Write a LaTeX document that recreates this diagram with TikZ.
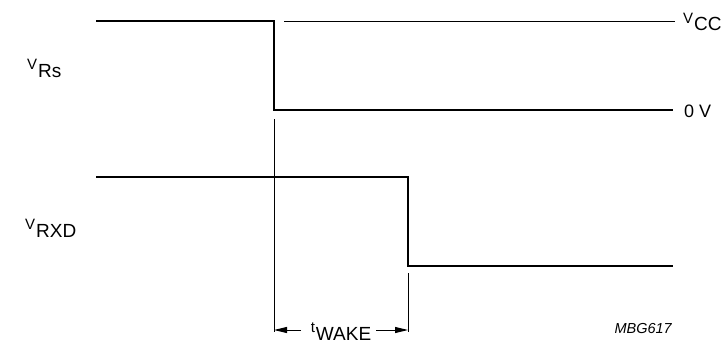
\documentclass[tikz,border=0pt]{standalone}
\usepackage{fontspec}
\setmainfont{Liberation Sans}
\usepackage{tikz}
\usetikzlibrary{arrows.meta}
\newcommand{\sig}[2]{\raisebox{8pt}{\fontsize{15}{15}\selectfont #1}\kern1pt{\fontsize{19}{19}\selectfont #2}}
\tikzset{
    signal/.style={line width=2pt, line join=miter},
    guide/.style={line width=0.9pt},
    dim/.style={guide, -{Triangle[length=13pt, width=6pt]}},
    signame/.style={inner sep=0pt, anchor=base west},
    level/.style={inner sep=0pt, anchor=west, font=\fontsize{18}{18}\selectfont},
    code/.style={inner sep=0pt, anchor=base east, font=\fontsize{14.5}{14.5}\selectfont\itshape}
}
\begin{document}
\begin{tikzpicture}[x=1pt, y=-1pt]
\useasboundingbox (0,0) rectangle (727,345);

% Rs waveform
\coordinate (rs0) at (96,21);
\coordinate (rs1) at (274,21);
\coordinate (rs2) at (274,110);
\coordinate (rs3) at (673,110);
\draw[signal] (rs0) -- (rs1) -- (rs2) -- (rs3);

% RXD waveform
\coordinate (rx0) at (96,177);
\coordinate (rx1) at (408,177);
\coordinate (rx2) at (408,266);
\coordinate (rx3) at (673,266);
\draw[signal] (rx0) -- (rx1) -- (rx2) -- (rx3);

% Supply level
\coordinate (vcc0) at (284,21);
\coordinate (vcc1) at (675,21);
\draw[guide] (vcc0) -- (vcc1);

% Signal names
\node[signame] (vrs) at (27,77) {\sig{V}{Rs}};
\node[signame] (vrxd) at (25,237) {\sig{V}{RXD}};
\node[signame] (vcc) at (683,31) {\sig{V}{CC}};
\node[level] (zero) at (684,111) {0 V};

% Timing marks
\coordinate (ta) at (274,119);
\coordinate (tb) at (274,332);
\coordinate (tc) at (408,273);
\coordinate (td) at (408,332);
\draw[guide] (ta) -- (tb);
\draw[guide] (tc) -- (td);

% Wake time
\node[inner sep=0pt, anchor=base] (twake) at (341,340) {\sig{t}{WAKE}};
\coordinate (wl) at (301,330);
\coordinate (wr) at (376,330);
\draw[dim] (wl) -- (ta |- wl);
\draw[dim] (wr) -- (tc |- wr);

% Drawing code
\node[code] (mbg) at (672,333) {MBG617};
\end{tikzpicture}
\end{document}
